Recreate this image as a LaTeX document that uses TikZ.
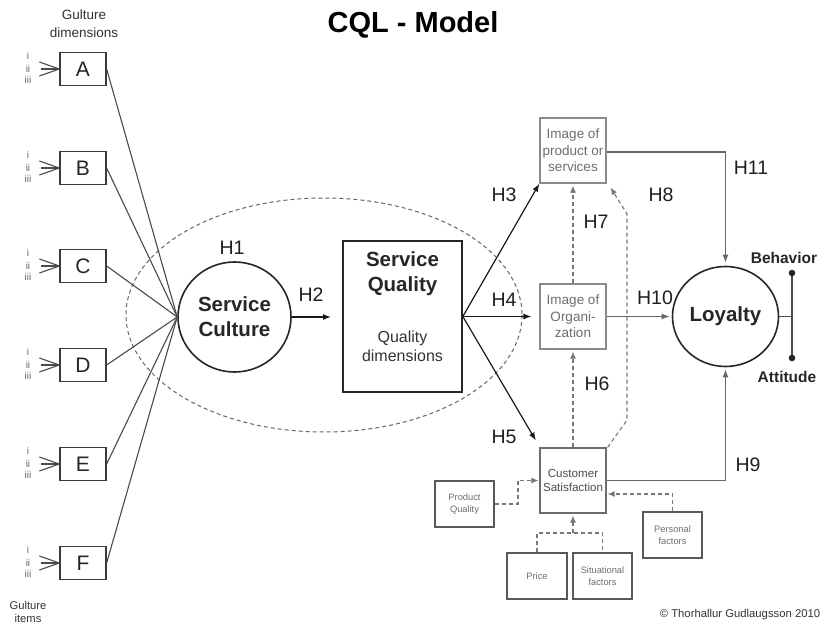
\documentclass[tikz,border=0pt]{standalone}
\usepackage{fontspec}
\setmainfont{Liberation Sans}
\usetikzlibrary{arrows.meta,shapes.geometric,calc}
\definecolor{dk}{HTML}{3A3A3A}
\definecolor{lnc}{HTML}{4A4A4A}
\definecolor{gbox}{HTML}{8A8A8A}
\definecolor{gtxt}{HTML}{6E6E6E}
\definecolor{dsh}{HTML}{777777}
\newcommand{\fs}[2]{\fontsize{#1}{#2}\selectfont}
\tikzset{
  dimbox/.style={draw=dk, line width=1.3pt, minimum width=46pt, minimum height=33pt, inner sep=0pt, font=\fs{21}{24}, text=black!85},
  imgbox/.style={draw=gbox, line width=1.3pt, minimum width=66pt, minimum height=65pt, inner sep=0pt, align=center, font=\fs{13.5}{16.5}, text=gtxt},
  csbox/.style={draw=gray!85!black, line width=1.3pt, minimum width=66pt, minimum height=65pt, inner sep=0pt, align=center, font=\fs{11.6}{14}, text=black!70},
  smallbox/.style={draw=black!65, line width=1.2pt, minimum width=59pt, minimum height=46pt, inner sep=0pt, align=center, font=\fs{9.3}{11.5}, text=gtxt},
  hlab/.style={font=\fs{19.5}{22}, text=black!88, inner sep=0pt},
  rom/.style={font=\fs{10}{10}, text=black!60, inner sep=0pt},
  feed/.style={draw=lnc, line width=1.1pt},
  blk/.style={draw=black!90, line width=1.2pt, -{Latex[length=8pt,width=6pt]}},
  gar/.style={draw=black!60, line width=1.4pt, -{Latex[length=8pt,width=6pt]}},
  dar/.style={draw=dsh, line width=1.1pt, dash pattern=on 4pt off 3pt, -{Latex[length=7pt,width=6pt]}},
  dln/.style={draw=dsh, line width=1.1pt, dash pattern=on 4pt off 3pt},
}
\begin{document}
\begin{tikzpicture}[x=1pt,y=-1pt]
\useasboundingbox (0,0) rectangle (825,628);
\fill[white] (0,0) rectangle (825,628);

% title
\node[font=\bfseries\fs{29}{32}, inner sep=0pt] (title) at (413,25) {CQL - Model};
\node[font=\fs{13.5}{18}, align=center, text=black!80, inner sep=0pt] (gdim) at (84,24) {Gulture\\dimensions};
\node[font=\fs{11.2}{13}, align=center, text=black!80, inner sep=0pt] (gitems) at (28,612) {Gulture\\items};
\node[font=\fs{11.3}{13}, text=black!80, inner sep=0pt] (copy) at (740,615) {© Thorhallur Gudlaugsson 2010};

% dashed ellipse
\draw[dash pattern=on 4pt off 3pt, draw=black!60, line width=1pt] (324,315) ellipse [x radius=198, y radius=117];

% dimension boxes
\foreach \n/\cy in {A/69,B/168,C/266,D/365,E/464,F/563}{
  \node[dimbox] (\n) at (83,\cy) {\n};
  \node[rom] (\n i) at (28,\cy-13.5) {i};
  \node[rom] (\n ii) at (28,\cy) {ii};
  \node[rom] (\n iii) at (28,\cy+11) {iii};
  \draw[feed] (\n.west) -- ++(-20,-7);
  \draw[feed] (\n.west) -- ++(-18,0);
  \draw[feed] (\n.west) -- ++(-20,7);
}

% service culture
\node[draw=black!85, line width=1.6pt, ellipse, minimum width=113pt, minimum height=110pt, inner sep=0pt, align=center, font=\bfseries\fs{20.5}{25}, text=black!85] (sc) at (234.5,317) {Service\\Culture};
\foreach \n in {A,B,C,D,E,F}{ \draw[feed] (\n.east) -- (sc.west); }
\node[hlab] (h1) at (232,248) {H1};

% service quality
\node[draw=black!85, line width=1.6pt, minimum width=119pt, minimum height=151pt, inner sep=0pt] (sq) at (402.5,316.5) {};
\node[font=\bfseries\fs{20.5}{25}, align=center, text=black!85, inner sep=0pt] (sqt) at (402.5,274) {Service\\Quality};
\node[font=\fs{16}{19}, align=center, text=black!80, inner sep=0pt] (sqd) at (402.5,346) {Quality\\dimensions};
\coordinate (h2e) at (331,317);
\draw[blk, line width=1.1pt] (sc.east) -- (h2e);
\node[hlab] (h2) at (311,295) {H2};

% image boxes
\node[imgbox] (ip) at (573,150.5) {Image of\\product or\\services};
\node[imgbox] (io) at (573,316.5) {Image of\\Organi-\\zation};
\node[csbox] (cs) at (573,480.5) {Customer\\Satisfaction};

\draw[blk] (sq.east) -- (ip.south west);
\draw[blk, shorten >=8pt] (sq.east) -- (io.west);
\draw[blk, shorten >=1pt] (sq.east) -- ([xshift=-3pt,yshift=6pt]cs.north west);
\node[hlab] (h3) at (504,195) {H3};
\node[hlab] (h4) at (504,300) {H4};
\node[hlab] (h5) at (504,437) {H5};

% loyalty
\node[draw=black!85, line width=1.6pt, ellipse, minimum width=106pt, minimum height=100pt, inner sep=0pt, font=\bfseries\fs{20.5}{24}, text=black!85] (loy) at (725.5,316.5) {Loyalty};
\coordinate (bt) at (792,273);
\coordinate (bb) at (792,358);
\coordinate (bm) at (792,316.5);
\draw[draw=black!70, line width=1.6pt] (bt) -- (bb);
\draw[draw=black!70, line width=1.4pt] (loy.east) -- (bm);
\fill[black!85] (bt) circle (3.3pt) (bb) circle (3.3pt);
\node[font=\bfseries\fs{15.5}{18}, text=black!85, inner sep=0pt] (beh) at (784,258) {Behavior};
\node[font=\bfseries\fs{15.5}{18}, text=black!85, inner sep=0pt] (att) at (787,377) {Attitude};

% H11, H10, H9
\draw[gar, shorten >=3pt] ([yshift=-1.5pt]ip.east) -| (loy.north);
\node[hlab] (h11) at (751,168) {H11};
\draw[gar, shorten >=2pt] (io.east) -- (loy.west);
\node[hlab] (h10) at (655,298) {H10};
\draw[gar, shorten >=2pt] (cs.east) -| (loy.south);
\node[hlab] (h9) at (748,465) {H9};

% dashed H7, H6, H8
\draw[dar, shorten >=2pt] (io.north) -- (ip.south);
\node[hlab] (h7) at (596,222) {H7};
\draw[dar, shorten >=2pt] (cs.north) -- (io.south);
\node[hlab] (h6) at (597,384) {H6};
\coordinate (h8a) at (627,420);
\coordinate (h8b) at (627,214);
\draw[dar] ([xshift=1pt]cs.north east) -- (h8a) -- (h8b) -- ([xshift=4pt,yshift=-4pt]ip.south east);
\node[hlab] (h8) at (661,195) {H8};

% antecedents of satisfaction
\node[smallbox] (pq) at (464.5,504) {Product\\Quality};
\node[smallbox, minimum width=60pt] (pr) at (537,576) {Price};
\node[smallbox] (sit) at (602.5,576) {Situational\\factors};
\node[smallbox] (pers) at (672.5,535) {Personal\\factors};

\coordinate (pqk) at (518,504);
\draw[dar, shorten >=1pt] (pq.east) -- (pqk) |- (cs.west);
\coordinate (pmid) at (573,533);
\draw[dln] (pr.north) |- (pmid) -| (sit.north);
\draw[dar, shorten >=2pt] (pmid) -- (cs.south);
\draw[dar, shorten >=1pt] (pers.north) |- ([yshift=-13.5pt]cs.east);
\end{tikzpicture}
\end{document}
